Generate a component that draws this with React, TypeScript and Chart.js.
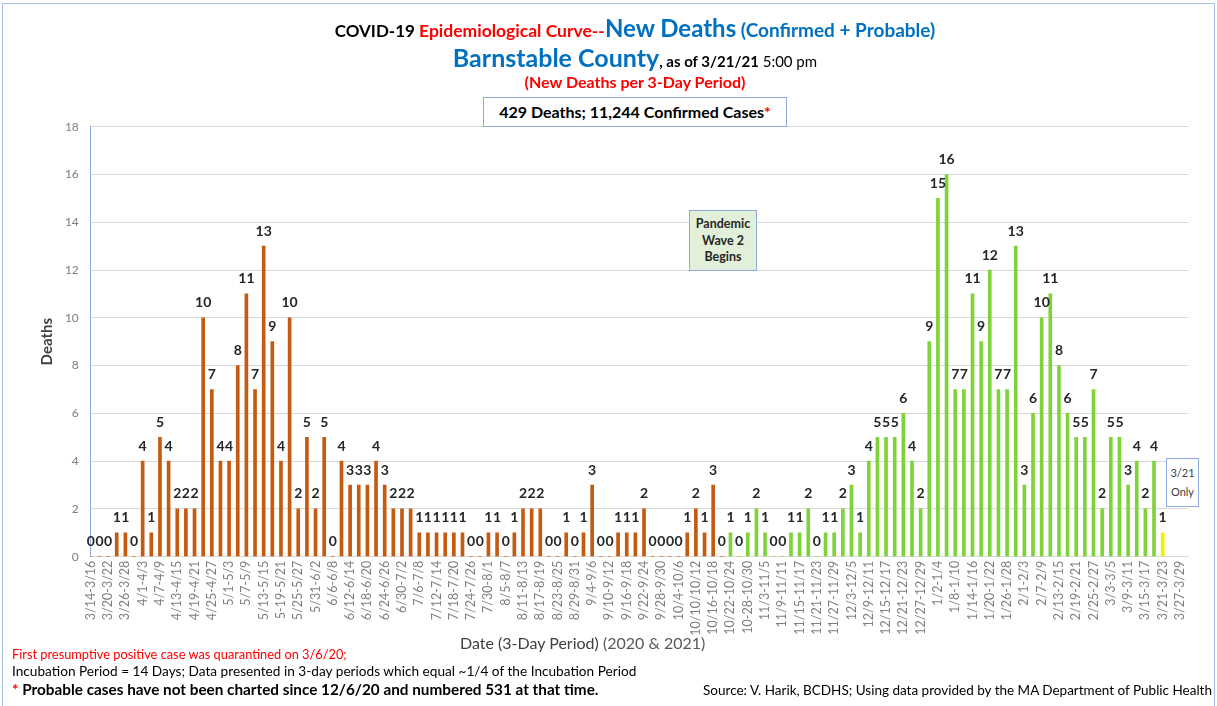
import React, { useEffect, useRef } from "react";
import { Chart, registerables } from "chart.js";

Chart.register(...registerables);

// Tick labels shown under every other 3-day period (as printed on the chart)
const tickLabels: string[] = [
  "3/14-3/16", "3/20-3/22", "3/26-3/28", "4/1-4/3", "4/7-4/9", "4/13-4/15", "4/19-4/21", "4/25-4/27",
  "5/1-5/3", "5/7-5/9", "5/13-5/15", "5-19-5/21", "5/25-5/27", "5/31-6/2", "6/6-6/8", "6/12-6/14",
  "6/18-6/20", "6/24-6/26", "6/30-7/2", "7/6-7/8", "7/12-7/14", "7/18-7/20", "7/24-7/26", "7/30-8/1",
  "8/5-8/7", "8/11-8/13", "8/17-8/19", "8/23-8/25", "8/29-8/31", "9/4-9/6", "9/10-9/12", "9/16-9/18",
  "9/22-9/24", "9/28-9/30", "10/4-10/6", "10/10/10/12", "10/16-10/18", "10/22-10/24", "10-28-10/30", "11/3-11/5",
  "11/9-11/11", "11/15-11/17", "11/21-11/23", "11/27-11/29", "12/3-12/5", "12/9-12/11", "12/15-12/17", "12/21-12/23",
  "12/27-12/29", "1/2-1/4", "1/8-1/10", "1/14-1/16", "1/20-1/22", "1/26-1/28", "2/1-2/3", "2/7-2/9",
  "2/13-2/15", "2/19-2/21", "2/25-2/27", "3/3-3/5", "3/9-3/11", "3/15-3/17", "3/21-3/23", "3/27-3/29",
];

// New deaths per 3-day period, starting 3/14/20
const newDeaths: (number | null)[] = [
  0, 0, 0, 1, 1, 0, 4, 1, 5, 4, 2, 2, 2, 10, 7, 4, 4, 8, 11, 7,
  13, 9, 4, 10, 2, 5, 2, 5, 0, 4, 3, 3, 3, 4, 3, 2, 2, 2, 1, 1,
  1, 1, 1, 1, 0, 0, 1, 1, 0, 1, 2, 2, 2, 0, 0, 1, 0, 1, 3, 0,
  0, 1, 1, 1, 2, 0, 0, 0, 0, 1, 2, 1, 3, 0, 1, 0, 1, 2, 1, 0,
  0, 1, 1, 2, 0, 1, 1, 2, 3, 1, 4, 5, 5, 5, 6, 4, 2, 9, 15, 16,
  7, 7, 11, 9, 12, 7, 7, 13, 3, 6, 10, 11, 8, 6, 5, 5, 7, 2, 5, 5,
  3, 4, 2, 4, 1, null, null, null,
];

const WAVE2_START_INDEX = 74; // first period drawn in green
const PARTIAL_PERIOD_INDEX = 124; // "3/21 Only" period drawn in yellow

const yTicks = { min: 0, max: 18, step: 2 };

const ORANGE = "#C55A11";
const GREEN = "#7ED33A";
const YELLOW = "#F2F200";
const FONT = "Lato, 'Open Sans', sans-serif";

const categories: string[] = tickLabels.flatMap((l) => [l, ""]);

const valueLabels = {
  id: "valueLabels",
  afterDatasetsDraw(chart: any) {
    const { ctx } = chart;
    const meta = chart.getDatasetMeta(0);
    ctx.save();
    ctx.font = `bold 14px ${FONT}`;
    ctx.fillStyle = "#262626";
    ctx.textAlign = "center";
    ctx.textBaseline = "middle";
    meta.data.forEach((el: any, i: number) => {
      const v = newDeaths[i];
      if (v === null || v === undefined) return;
      if (!isFinite(el.x) || !isFinite(el.y)) return;
      ctx.fillText(String(v), el.x, el.y - 15);
    });
    ctx.restore();
  },
};

function ChartCanvas() {
  const ref = useRef<HTMLCanvasElement | null>(null);
  useEffect(() => {
    if (!ref.current) return;
    const chart = new Chart(ref.current, {
      type: "bar",
      data: {
        labels: categories,
        datasets: [
          {
            data: newDeaths as any,
            backgroundColor: (c: any) =>
              c.dataIndex >= PARTIAL_PERIOD_INDEX ? YELLOW : c.dataIndex >= WAVE2_START_INDEX ? GREEN : ORANGE,
            barThickness: 3,
          },
        ],
      },
      options: {
        animation: false,
        responsive: false,
        maintainAspectRatio: false,
        devicePixelRatio: 1,
        layout: {
          padding: { left: 37.7, right: 28.4, top: 126.7, bottom: 59.3 },
          autoPadding: false,
        } as any,
        plugins: {
          legend: { display: false },
          tooltip: { enabled: false },
          title: { display: false },
        },
        scales: {
          x: {
            offset: false,
            grid: { display: false, drawTicks: false },
            border: { display: true, color: "#d9d9d9" },
            ticks: {
              autoSkip: false,
              maxRotation: 90,
              minRotation: 90,
              padding: 4,
              color: "#7f7f7f",
              font: { family: FONT, size: 12.5 },
            },
            afterFit: (s: any) => {
              s.height = 90;
            },
          },
          y: {
            min: yTicks.min,
            max: yTicks.max,
            ticks: {
              stepSize: yTicks.step,
              padding: 12,
              color: "#7f7f7f",
              font: { family: FONT, size: 12 },
            },
            grid: { color: "#d9d9d9", drawTicks: false },
            border: { display: true, color: "#8faadc" },
            title: {
              display: true,
              text: "Deaths",
              color: "#404040",
              font: { family: FONT, size: 15, weight: "bold" },
              padding: 0,
            },
            afterFit: (s: any) => {
              s.width = 53.1;
            },
          },
        },
      } as any,
      plugins: [valueLabels],
    });
    return () => chart.destroy();
  }, []);
  return <canvas ref={ref} width={1217} height={706} style={{ position: "absolute", left: 0, top: 0, width: 1217, height: 706 }} />;
}

const abs = (s: React.CSSProperties): React.CSSProperties => ({ position: "absolute", whiteSpace: "nowrap", fontFamily: FONT, ...s });

export default function App() {
  return (
    <div style={{ position: "fixed", left: 0, top: 0, width: 1217, height: 706, background: "#fff", overflow: "hidden" }}>
      <div style={{ position: "absolute", left: 2, top: 3, width: 1211, height: 720, border: "1px solid #a9bfe3" }} />
      <ChartCanvas />
      {/* Title line 1 */}
      <div style={abs({ left: 135, width: 1000, top: 13, textAlign: "center", fontWeight: 700, lineHeight: "30px" })}>
        <span style={{ fontSize: 17, color: "#000" }}>COVID-19 </span>
        <span style={{ fontSize: 17.5, color: "#FF0000" }}>Epidemiological Curve--</span>
        <span style={{ fontSize: 24, color: "#0070C0" }}>New Deaths</span>
        <span style={{ fontSize: 19, color: "#0070C0" }}> (Confirmed + Probable)</span>
      </div>
      {/* Title line 2 */}
      <div style={abs({ left: 135, width: 1000, top: 42, textAlign: "center", lineHeight: "30px" })}>
        <span style={{ fontSize: 25, color: "#0070C0", fontWeight: 700 }}>Barnstable County</span>
        <span style={{ fontSize: 15, color: "#000", fontWeight: 700 }}>, as of 3/21/21</span>
        <span style={{ fontSize: 15, color: "#000" }}> 5:00 pm</span>
      </div>
      {/* Title line 3 */}
      <div style={abs({ left: 135, width: 1000, top: 71, textAlign: "center", lineHeight: "22px", fontSize: 16, fontWeight: 700, color: "#FF0000" })}>
        (New Deaths per 3-Day Period)
      </div>
      {/* Totals box */}
      <div
        style={abs({
          left: 483,
          top: 97,
          width: 302,
          height: 28,
          border: "1px solid #8faadc",
          background: "#fff",
          textAlign: "center",
          lineHeight: "28px",
          fontSize: 16,
          fontWeight: 700,
          color: "#000",
        })}
      >
        429 Deaths; 11,244 Confirmed Cases<span style={{ color: "#FF0000" }}>*</span>
      </div>
      {/* Pandemic Wave 2 annotation */}
      <div
        style={abs({
          left: 689,
          top: 210,
          width: 66,
          height: 59,
          border: "1px solid #8faadc",
          background: "#e2efd9",
          textAlign: "center",
          fontSize: 12.5,
          fontWeight: 700,
          color: "#262626",
          lineHeight: "16.5px",
        })}
      >
        <div style={{ position: "absolute", left: 0, right: 0, top: 5 }}>
          Pandemic
          <br />
          Wave 2
          <br />
          Begins
        </div>
      </div>
      {/* 3/21 Only annotation */}
      <div
        style={abs({
          left: 1166,
          top: 458,
          width: 31,
          height: 47,
          border: "1px solid #8faadc",
          background: "#fff",
          textAlign: "center",
          fontSize: 11,
          color: "#404040",
          lineHeight: "19px",
        })}
      >
        <div style={{ position: "absolute", left: 0, right: 0, top: 4 }}>
          3/21
          <br />
          Only
        </div>
      </div>
      {/* X axis title */}
      <div style={abs({ left: 460, top: 633, fontSize: 16, lineHeight: "20px", color: "#404040" })}>
        Date (3-Day Period) <span style={{ color: "#595959" }}>(2020 &amp; 2021)</span>
      </div>
      {/* Footer notes */}
      <div style={abs({ left: 12, top: 646, fontSize: 12.8, lineHeight: "16px", color: "#FF0000" })}>
        First presumptive positive case was quarantined on 3/6/20;
      </div>
      <div style={abs({ left: 12, top: 663, fontSize: 13.65, lineHeight: "17px", color: "#000" })}>
        Incubation Period = 14 Days; Data presented in 3-day periods which equal ~1/4 of the Incubation Period
      </div>
      <div style={abs({ left: 12, top: 680, fontSize: 15.3, lineHeight: "19px", color: "#000", fontWeight: 700 })}>
        <span style={{ color: "#FF0000" }}>*</span> Probable cases have not been charted since 12/6/20 and numbered 531 at that time.
      </div>
      <div style={abs({ right: 5, top: 681, fontSize: 13.5, lineHeight: "18px", color: "#000" })}>
        Source: V. Harik, BCDHS; Using data provided by the MA Department of Public Health
      </div>
    </div>
  );
}
